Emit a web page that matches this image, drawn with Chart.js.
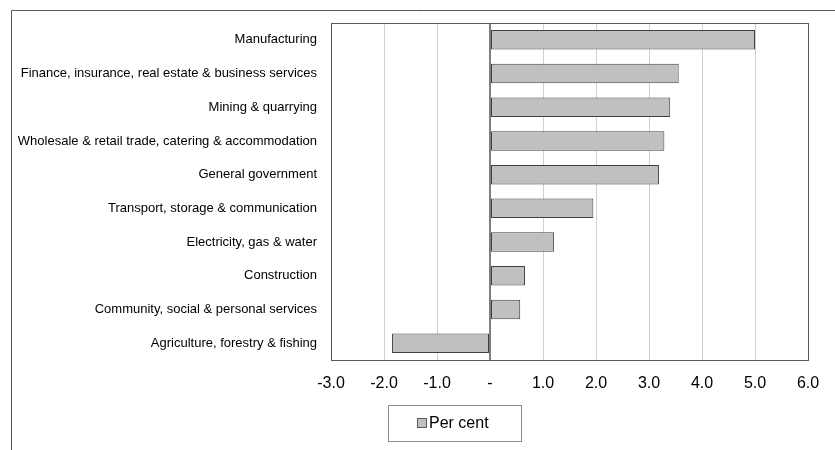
<!DOCTYPE html>
<html>
<head>
<meta charset="utf-8">
<script src="https://cdn.jsdelivr.net/npm/chart.js@4/dist/chart.umd.min.js"></script>
<style>
  html, body { margin: 0; padding: 0; background: #fff; }
  #wrap { width: 835px; height: 450px; position: relative; }
</style>
</head>
<body>
<div id="wrap"><canvas id="sectorChart" width="835" height="450"></canvas></div>
<script>
const sectors = [
    'Manufacturing',
    'Finance, insurance, real estate & business services',
    'Mining & quarrying',
    'Wholesale & retail trade, catering & accommodation',
    'General government',
    'Transport, storage & communication',
    'Electricity, gas & water',
    'Construction',
    'Community, social & personal services',
    'Agriculture, forestry & fishing'
];
const perCent = [5.0, 3.56, 3.40, 3.29, 3.19, 1.95, 1.21, 0.66, 0.57, -1.85];
const xMin = -3;
const xMax = 6;

// outer frame, plot border and boxed legend, drawn like the spreadsheet original
const framePlugin = {
    id: 'frame',
    beforeDraw(chart) {
        const c = chart.ctx;
        c.save();
        c.strokeStyle = '#595959';
        c.lineWidth = 1;
        c.beginPath();
        c.moveTo(11.5, 450);
        c.lineTo(11.5, 10.5);
        c.lineTo(835, 10.5);
        c.stroke();
        c.restore();
    },
    afterDatasetsDraw(chart) {
        const a = chart.chartArea;
        const c = chart.ctx;
        c.save();
        c.strokeStyle = '#595959';
        c.lineWidth = 1;
        c.strokeRect(Math.round(a.left) + 0.5, Math.round(a.top) + 0.5,
            Math.round(a.right - a.left), Math.round(a.bottom - a.top));
        c.restore();
    },
    afterDraw(chart) {
        const c = chart.ctx;
        const ds = chart.data.datasets[0];
        c.save();
        c.strokeStyle = '#8c8c8c';
        c.lineWidth = 1;
        c.strokeRect(388.5, 405.5, 133, 36);
        c.fillStyle = ds.backgroundColor;
        c.fillRect(417, 418, 10, 10);
        c.strokeStyle = '#595959';
        c.strokeRect(417.5, 418.5, 9, 9);
        c.fillStyle = '#000';
        c.font = '16px "Liberation Sans", Arial, sans-serif';
        c.textBaseline = 'middle';
        c.fillText(ds.label, 429, 423.5);
        c.restore();
    }
};

new Chart(document.getElementById('sectorChart'), {
    type: 'bar',
    data: {
        labels: sectors,
        datasets: [{
            label: 'Per cent',
            data: perCent,
            backgroundColor: '#c0c0c0',
            borderColor: '#404040',
            borderWidth: 1,
            borderSkipped: false,
            barPercentage: 0.58,
            categoryPercentage: 1
        }]
    },
    options: {
        indexAxis: 'y',
        responsive: false,
        animation: false,
        layout: { padding: { top: 23, right: 27, bottom: 0, left: 0 } },
        plugins: {
            legend: { display: false },
            tooltip: { enabled: false }
        },
        scales: {
            x: {
                min: xMin,
                max: xMax,
                ticks: {
                    stepSize: 1,
                    padding: 14,
                    color: '#000',
                    font: { family: '"Liberation Sans", Arial, sans-serif', size: 16 },
                    callback: v => v === 0 ? '-' : v.toFixed(1)
                },
                grid: {
                    drawTicks: false,
                    color: ctx => ctx.tick && ctx.tick.value === 0 ? '#7f7f7f' : '#d0d0d0',
                    lineWidth: ctx => ctx.tick && ctx.tick.value === 0 ? 2 : 1
                },
                border: { display: false },
                afterFit(scale) { scale.height = 90; }
            },
            y: {
                ticks: {
                    padding: 14,
                    color: '#000',
                    font: { family: '"Liberation Sans", Arial, sans-serif', size: 13 }
                },
                grid: { display: false, drawTicks: false },
                border: { display: false },
                afterFit(scale) { scale.width = 331; }
            }
        }
    },
    plugins: [framePlugin]
});
</script>
</body>
</html>
